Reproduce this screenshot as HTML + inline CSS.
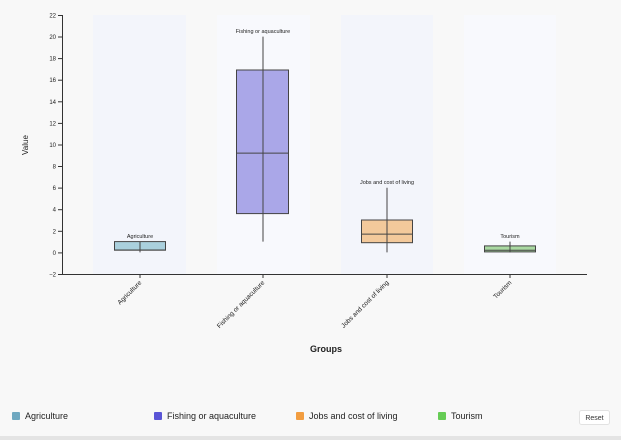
<!DOCTYPE html>
<html><head><meta charset="utf-8"><style>
body{margin:0;width:621px;height:440px;background:#f8f8f8;font-family:"Liberation Sans",sans-serif;overflow:hidden;position:relative}
.leg{position:absolute;top:411px;font-size:9px;color:#222;display:flex;align-items:center}
.leg i{display:inline-block;width:8px;height:8px;border-radius:1px;margin-right:5px}
</style></head><body>
<svg width="621" height="440" style="position:absolute;left:0;top:0" font-family="Liberation Sans, sans-serif">
<g fill="#f3f5fb"><rect x="93" y="15" width="93" height="259"/><rect x="217" y="15" width="93" height="259" fill="#f8f9fd"/><rect x="341" y="15" width="92" height="259"/><rect x="464" y="15" width="92" height="259" fill="#f8f9fd"/></g>
<g stroke="#333" stroke-width="1" fill="none">
<line x1="62.5" y1="15" x2="62.5" y2="274"/>
<line x1="62" y1="274.5" x2="587" y2="274.5"/>
</g>
<g font-size="6" fill="#222" text-anchor="end" stroke="#333">
<g stroke-width="1">
<line x1="58" x2="62" y1="15.5" y2="15.5"/><line x1="58" x2="62" y1="37" y2="37"/><line x1="58" x2="62" y1="58.6" y2="58.6"/><line x1="58" x2="62" y1="80.2" y2="80.2"/><line x1="58" x2="62" y1="101.8" y2="101.8"/><line x1="58" x2="62" y1="123.4" y2="123.4"/><line x1="58" x2="62" y1="145" y2="145"/><line x1="58" x2="62" y1="166.5" y2="166.5"/><line x1="58" x2="62" y1="188.1" y2="188.1"/><line x1="58" x2="62" y1="209.7" y2="209.7"/><line x1="58" x2="62" y1="231.3" y2="231.3"/><line x1="58" x2="62" y1="252.9" y2="252.9"/><line x1="58" x2="62" y1="274.5" y2="274.5"/>
<line x1="140" x2="140" y1="274" y2="278"/><line x1="263" x2="263" y1="274" y2="278"/><line x1="387" x2="387" y1="274" y2="278"/><line x1="510" x2="510" y1="274" y2="278"/>
</g>
<g stroke="none">
<text x="56" y="17.5">22</text><text x="56" y="39">20</text><text x="56" y="60.6">18</text><text x="56" y="82.2">16</text><text x="56" y="103.8">14</text><text x="56" y="125.4">12</text><text x="56" y="147">10</text><text x="56" y="168.5">8</text><text x="56" y="190.1">6</text><text x="56" y="211.7">4</text><text x="56" y="233.3">2</text><text x="56" y="254.9">0</text><text x="56" y="276.5">−2</text>
</g></g>
<g font-size="6.5" fill="#222" text-anchor="end">
<text transform="translate(142,283) rotate(-45)">Agriculture</text>
<text transform="translate(265,283) rotate(-45)">Fishing or aquaculture</text>
<text transform="translate(389,283) rotate(-45)">Jobs and cost of living</text>
<text transform="translate(512,283) rotate(-45)">Tourism</text>
</g>
<text x="326" y="352" font-size="9" font-weight="bold" text-anchor="middle" fill="#222">Groups</text>
<text transform="translate(28,145) rotate(-90)" font-size="8" text-anchor="middle" fill="#222">Value</text>
<g stroke="#444" stroke-width="1">
<rect x="114.5" y="241.6" width="51" height="8.6" fill="#aad0dd"/>
<line x1="140" x2="140" y1="241.6" y2="252.4"/><line x1="114.5" x2="165.5" y1="250" y2="250"/>
<rect x="236.5" y="70" width="52" height="143.6" fill="#aaa7e8"/>
<line x1="263" x2="263" y1="36.6" y2="241.6"/><line x1="236.5" x2="288.5" y1="153.1" y2="153.1"/>
<rect x="361.5" y="220" width="51" height="22.7" fill="#f3c99b"/>
<line x1="387" x2="387" y1="187.7" y2="252.4"/><line x1="361.5" x2="412.5" y1="234.1" y2="234.1"/>
<rect x="484.5" y="245.9" width="51" height="6" fill="#aad9a2"/>
<line x1="510" x2="510" y1="241.6" y2="252.4"/><line x1="484.5" x2="535.5" y1="250.2" y2="250.2"/>
</g>
<g font-size="5.5" fill="#222" text-anchor="middle">
<text x="140" y="238">Agriculture</text>
<text x="263" y="33">Fishing or aquaculture</text>
<text x="387" y="184">Jobs and cost of living</text>
<text x="510" y="238">Tourism</text>
</g>
<rect x="0" y="436" width="621" height="4" fill="#e4e4e4"/>
<rect x="579.5" y="410.5" width="30" height="14" rx="2" fill="#fff" stroke="#e2e2e2"/>
<text x="594.5" y="420" font-size="7" text-anchor="middle" fill="#333">Reset</text>
</svg>
<div class="leg" style="left:12px"><i style="background:#6fa8c0"></i>Agriculture</div>
<div class="leg" style="left:154px"><i style="background:#5a55d6"></i>Fishing or aquaculture</div>
<div class="leg" style="left:296px"><i style="background:#f29d40"></i>Jobs and cost of living</div>
<div class="leg" style="left:438px"><i style="background:#66cc55"></i>Tourism</div>
</body></html>
